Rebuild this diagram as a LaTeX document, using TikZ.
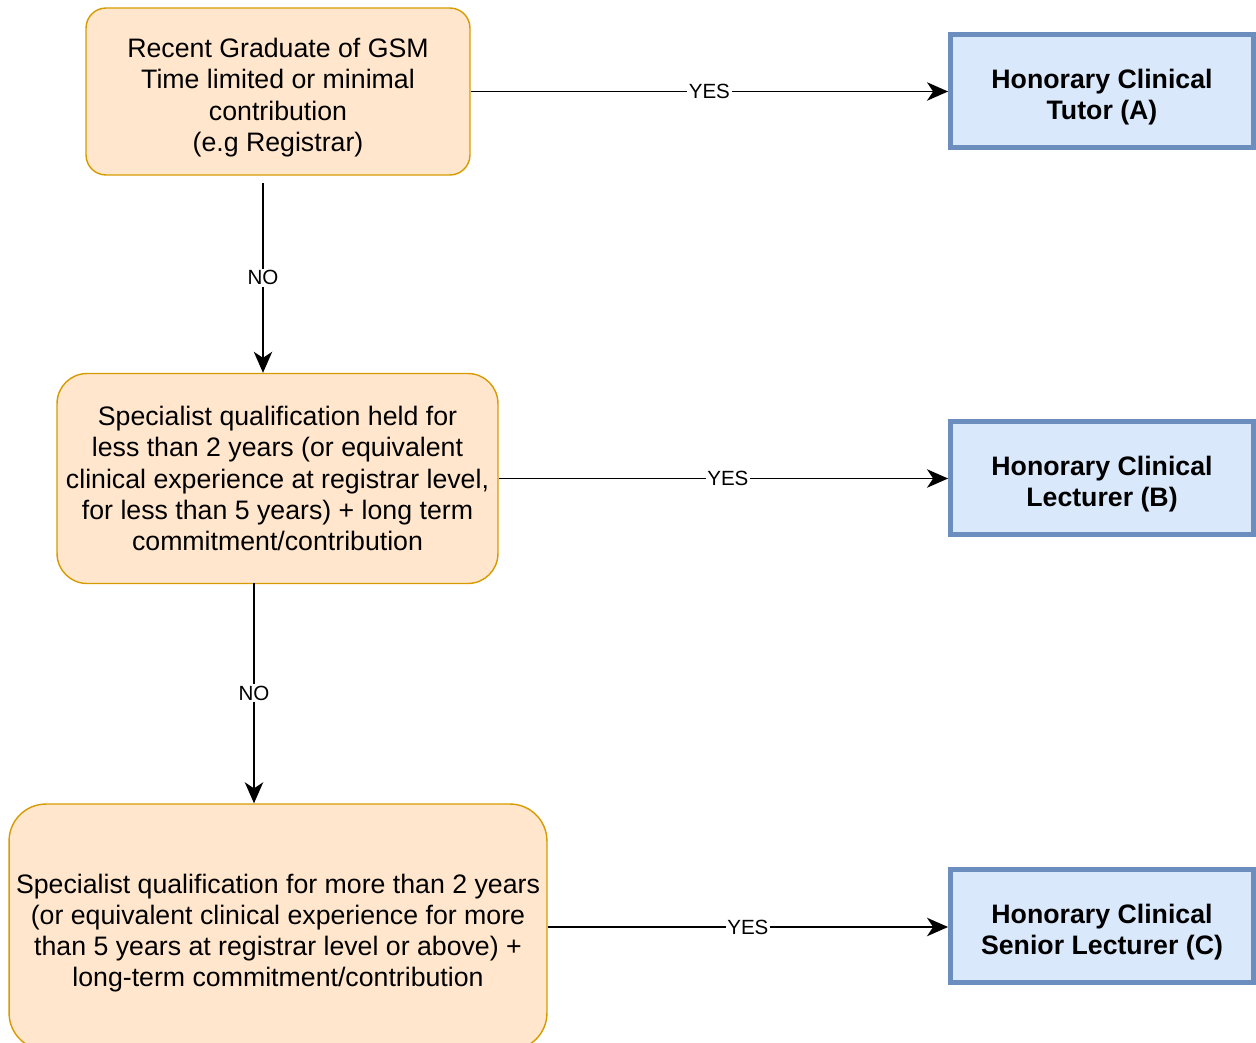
\documentclass[tikz,border=0pt]{standalone}
\usepackage{fontspec}
\setmainfont{Liberation Sans}
\usetikzlibrary{arrows.meta,positioning}
\definecolor{qfill}{HTML}{FFE6CC}
\definecolor{qline}{HTML}{D79B00}
\definecolor{rfill}{HTML}{DAE8FC}
\definecolor{rline}{HTML}{6C8EBF}
\newcommand\topgap{\rule{0pt}{18pt}}

\begin{document}
\begin{tikzpicture}[x=0.02cm,y=-0.02cm,
    qnode/.style={draw=qline,fill=qfill,line width=0.8pt,align=center,inner sep=2pt,font=\fontsize{15.2pt}{17.7pt}\selectfont},
    rnode/.style={draw=rline,fill=rfill,line width=2.8pt,align=center,minimum width=6.06cm,minimum height=2.26cm,font=\fontsize{15.2pt}{17.7pt}\selectfont\bfseries},
    link/.style={-{Stealth[length=12pt,width=10.5pt,inset=3.5pt]},line width=0.85pt},
    lbl/.style={fill=white,inner sep=1pt,font=\fontsize{11.7pt}{13pt}\selectfont}]

  %% Page size
  \useasboundingbox (0,0) rectangle (1256,1043);

  %% Questions on the left
  \node[qnode,minimum width=7.68cm,minimum height=3.34cm,rounded corners=0.4cm] (grad) at (278,91.5)
    {\topgap Recent Graduate of GSM\\Time limited or minimal\\contribution\\(e.g Registrar)};
  \node[qnode,minimum width=8.82cm,minimum height=4.2cm,rounded corners=0.6cm] (spec) at (277.5,478.5)
    {Specialist qualification held for\\less than 2 years (or equivalent\\clinical experience at registrar level,\\for less than 5 years) + long term\\commitment/contribution};
  \node[qnode,minimum width=10.76cm,minimum height=4.92cm,rounded corners=0.74cm] (senior) at (278,927)
    {\topgap Specialist qualification for more than 2 years\\(or equivalent clinical experience for more\\than 5 years at registrar level or above) +\\long-term commitment/contribution};

  %% Titles on the right
  \foreach \name/\y/\t in {tutor/91/{Honorary Clinical\\Tutor (A)},
                           lect/478/{Honorary Clinical\\Lecturer (B)},
                           slect/926/{Honorary Clinical\\Senior Lecturer (C)}}{
    \node[rnode] (\name) at (1102,\y) {\topgap\t};
  }

  %% YES arrows
  \draw[link] (grad.east) -- node[lbl,pos=0.5]{YES} (tutor.west |- grad.east);
  \draw[link] (spec.east) -- node[lbl,pos=0.51]{YES} (lect.west |- spec.east);
  \draw[link] (senior.east) -- node[lbl,pos=0.5]{YES} (slect.west |- senior.east);

  %% NO arrows
  \coordinate (no1) at (263,183);
  \coordinate (no2) at (254,583);
  \draw[link] (no1) -- node[lbl]{NO} (no1 |- spec.north);
  \draw[link] (no2) -- node[lbl,pos=0.5]{NO} (no2 |- senior.north);

\end{tikzpicture}
\end{document}
